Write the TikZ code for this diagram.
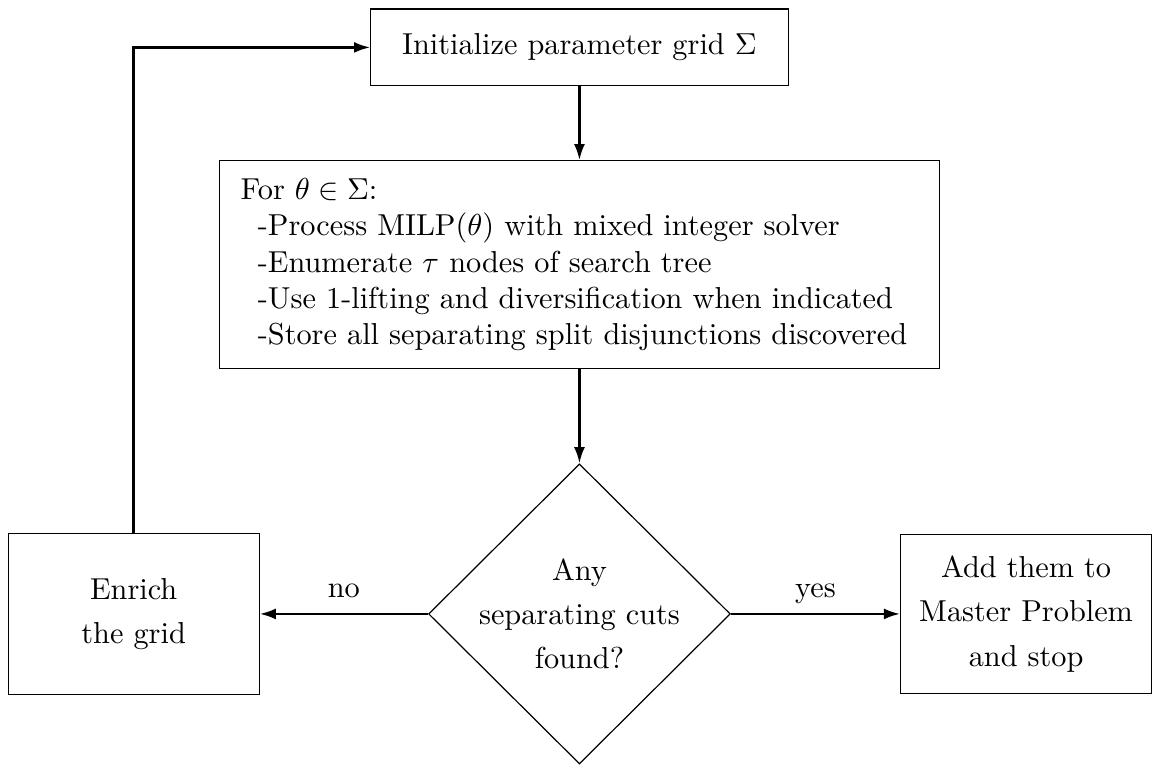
\documentclass[tikz,border=0pt]{standalone}
\usetikzlibrary{shapes.geometric,arrows.meta}
\begin{document}
\begin{tikzpicture}[->,>={Latex[length=5.3pt,width=3.6pt]},thick,
  block/.style={draw,thin,rectangle},
  decision/.style={draw,thin,diamond,aspect=1,inner sep=-6pt,
    minimum width=3.5cm,minimum height=3.48cm,align=center,
    font=\linespread{1.22}\selectfont},
  answer/.style={midway,above=1.6pt,text depth=0pt}]

\useasboundingbox (0,0) rectangle (13.36,-8.87);

\node [block,minimum width=4.84cm,minimum height=0.89cm] (init) at (6.72,-0.55)
  {Initialize parameter grid $\Sigma$};
\node [block,align=left,text width=7.86cm,inner xsep=7pt,minimum height=2.41cm]
  (forall) at (6.72,-3.07)
  {For $\theta\in\Sigma$:\\
   \hspace*{2mm}-Process MILP$(\theta)$ with mixed integer solver\\
   \hspace*{2mm}-Enumerate $\tau$ nodes of search tree\\
   \hspace*{2mm}-Use 1-lifting and diversification when indicated\\
   \hspace*{2mm}-Store all separating split disjunctions discovered};
\node [decision] (dec) at (6.72,-7.12) {Any\\separating cuts\\found?};
\node [block,align=center,minimum width=2.91cm,minimum height=1.86cm,
  font=\linespread{1.22}\selectfont] (enrich) at (1.55,-7.12) {Enrich\\the grid};
\node [block,align=center,minimum width=2.91cm,minimum height=1.84cm,
  font=\linespread{1.22}\selectfont] (stop) at (11.9,-7.12)
  {Add them to\\Master Problem\\and stop};

\draw (init.south -| forall.north) -- (forall.north);
\draw (forall.south) -- (dec.north);
\draw (dec.west) -- node [answer] {no} (enrich.east);
\draw (dec.east) -- node [answer] {yes} (stop.west);
\draw (enrich.north) |- (init.west);

\end{tikzpicture}
\end{document}
